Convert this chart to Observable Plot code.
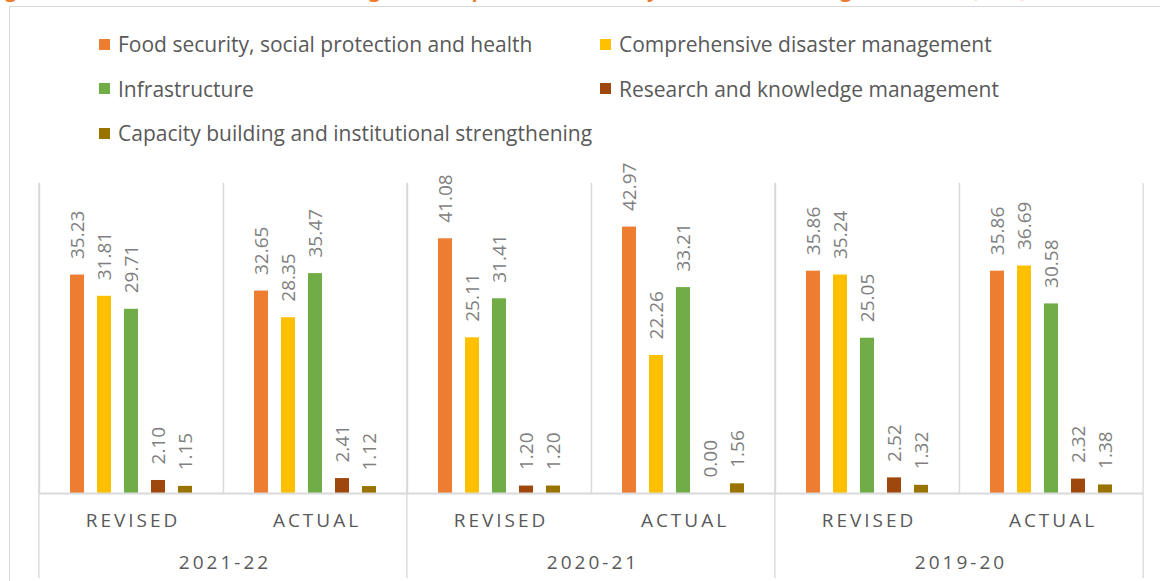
<!DOCTYPE html>
<html>
<head>
<meta charset="utf-8">
<script src="https://cdn.jsdelivr.net/npm/d3@7"></script>
<script src="https://cdn.jsdelivr.net/npm/@observablehq/plot@0.6"></script>
<style>
  body { margin: 0; background: #fff; }
  #wrap { position: relative; width: 1160px; height: 581px; overflow: hidden; font-family: "Open Sans", sans-serif; background: #fff; }
  #title { position: absolute; left: -12px; top: -20px; white-space: nowrap; color: #ED7D31; font-weight: bold; font-size: 20px; line-height: 20px; font-family: "Open Sans", sans-serif; }
  #border { position: absolute; left: 9px; top: 6px; width: 1300px; height: 800px; border: 1.5px solid #d9d9d9; box-sizing: border-box; }
  #legend { position: absolute; left: 99px; top: 22px; display: grid; grid-template-columns: 501px auto; grid-auto-rows: 44.5px; }
  .item { display: flex; align-items: center; color: #595959; font-size: 21px; white-space: nowrap; }
  .sw { width: 11px; height: 11px; margin-right: 8px; flex: none; }
  #chart { position: absolute; left: 0; top: 0; }
</style>
</head>
<body>
<div id="wrap">
  <div id="border"></div>
  <div id="title">Figure 3: Sector-wise Allocation of Budget and Expenditure in Five-year Disaster Management Plan (in %)</div>
  <div id="legend"></div>
  <div id="chart"></div>
</div>
<script>
// ---- data ----
const years = ["2021-22", "2020-21", "2019-20"];
const stages = ["REVISED", "ACTUAL"];
const sectors = [
  "Food security, social protection and health",
  "Comprehensive disaster management",
  "Infrastructure",
  "Research and knowledge management",
  "Capacity building and institutional strengthening"
];
const colors = ["#ED7D31", "#FFC000", "#70AD47", "#9E480E", "#997300"];
// order: 2021-22 Revised, Actual; 2020-21 Revised, Actual; 2019-20 Revised, Actual
const food      = [35.23, 32.65, 41.08, 42.97, 35.86, 35.86];
const disaster  = [31.81, 28.35, 25.11, 22.26, 35.24, 36.69];
const infra     = [29.71, 35.47, 31.41, 33.21, 25.05, 30.58];
const research  = [2.10, 2.41, 1.20, 0.00, 2.52, 2.32];
const capacity  = [1.15, 1.12, 1.20, 1.56, 1.32, 1.38];
const series = [food, disaster, infra, research, capacity];

// ---- tables ----
const cols = [];
years.forEach(y => stages.forEach(s => cols.push({key: y + " " + s, year: y, stage: s})));
const keys = cols.map(c => c.key);
const rows = [];
cols.forEach((c, ci) => series.forEach((vals, si) => rows.push({key: c.key, sector: sectors[si], value: vals[ci]})));
const groupStarts = cols.filter(c => c.stage === "REVISED");
const lastCol = [cols[cols.length - 1]];

// ---- legend ----
const legend = document.getElementById("legend");
sectors.forEach((name, i) => {
  const it = document.createElement("div");
  it.className = "item";
  it.innerHTML = `<span class="sw" style="background:${colors[i]}"></span><span>${name}</span>`;
  legend.appendChild(it);
});

// ---- chart ----
const W = 1160, H = 581, ML = 38, MR = 17, MT = 183, MB = 88;
const bw = (W - ML - MR) / keys.length;
const grid = "#d9d9d9";

const chart = Plot.plot({
  width: W, height: H,
  marginLeft: ML, marginRight: MR, marginTop: MT, marginBottom: MB,
  style: {fontFamily: "'Open Sans', sans-serif", background: "transparent"},
  fx: {domain: keys, padding: 0, axis: null},
  x: {domain: sectors, paddingInner: 0.48, paddingOuter: 0.24, insetLeft: 24.5, insetRight: 24.5, axis: null},
  y: {domain: [0, 50], axis: null},
  color: {domain: sectors, range: colors},
  marks: [
    Plot.frame({anchor: "left", stroke: grid, strokeWidth: 1.5}),
    Plot.rect(groupStarts, {fx: "key", fill: grid, insetLeft: -0.75, insetRight: bw - 0.75, insetBottom: -85}),
    Plot.rect(lastCol, {fx: "key", fill: grid, insetLeft: bw - 0.75, insetRight: -0.75, insetBottom: -85}),
    Plot.barY(rows, {fx: "key", x: "sector", y: "value", fill: "sector"}),
    Plot.ruleY([0], {stroke: grid, strokeWidth: 2}),
    Plot.text(rows, {fx: "key", x: "sector", y: "value", text: d => d.value.toFixed(2),
      rotate: -90, textAnchor: "start", dy: -16, fill: "#7f7f7f", fontSize: 19}),
    Plot.text(cols, {fx: "key", text: "stage", frameAnchor: "bottom", dy: 33, fill: "#595959", fontSize: 19}),
    Plot.text(groupStarts, {fx: "key", text: "year", frameAnchor: "bottom-right", textAnchor: "middle", dy: 75, fill: "#595959", fontSize: 19})
  ]
});

chart.querySelectorAll("text").forEach(t => {
  const s = t.textContent;
  if (stages.includes(s) || years.includes(s)) { t.setAttribute("letter-spacing", "3px"); t.setAttribute("dx", "1.5"); }
});
document.getElementById("chart").appendChild(chart);
</script>
</body>
</html>
